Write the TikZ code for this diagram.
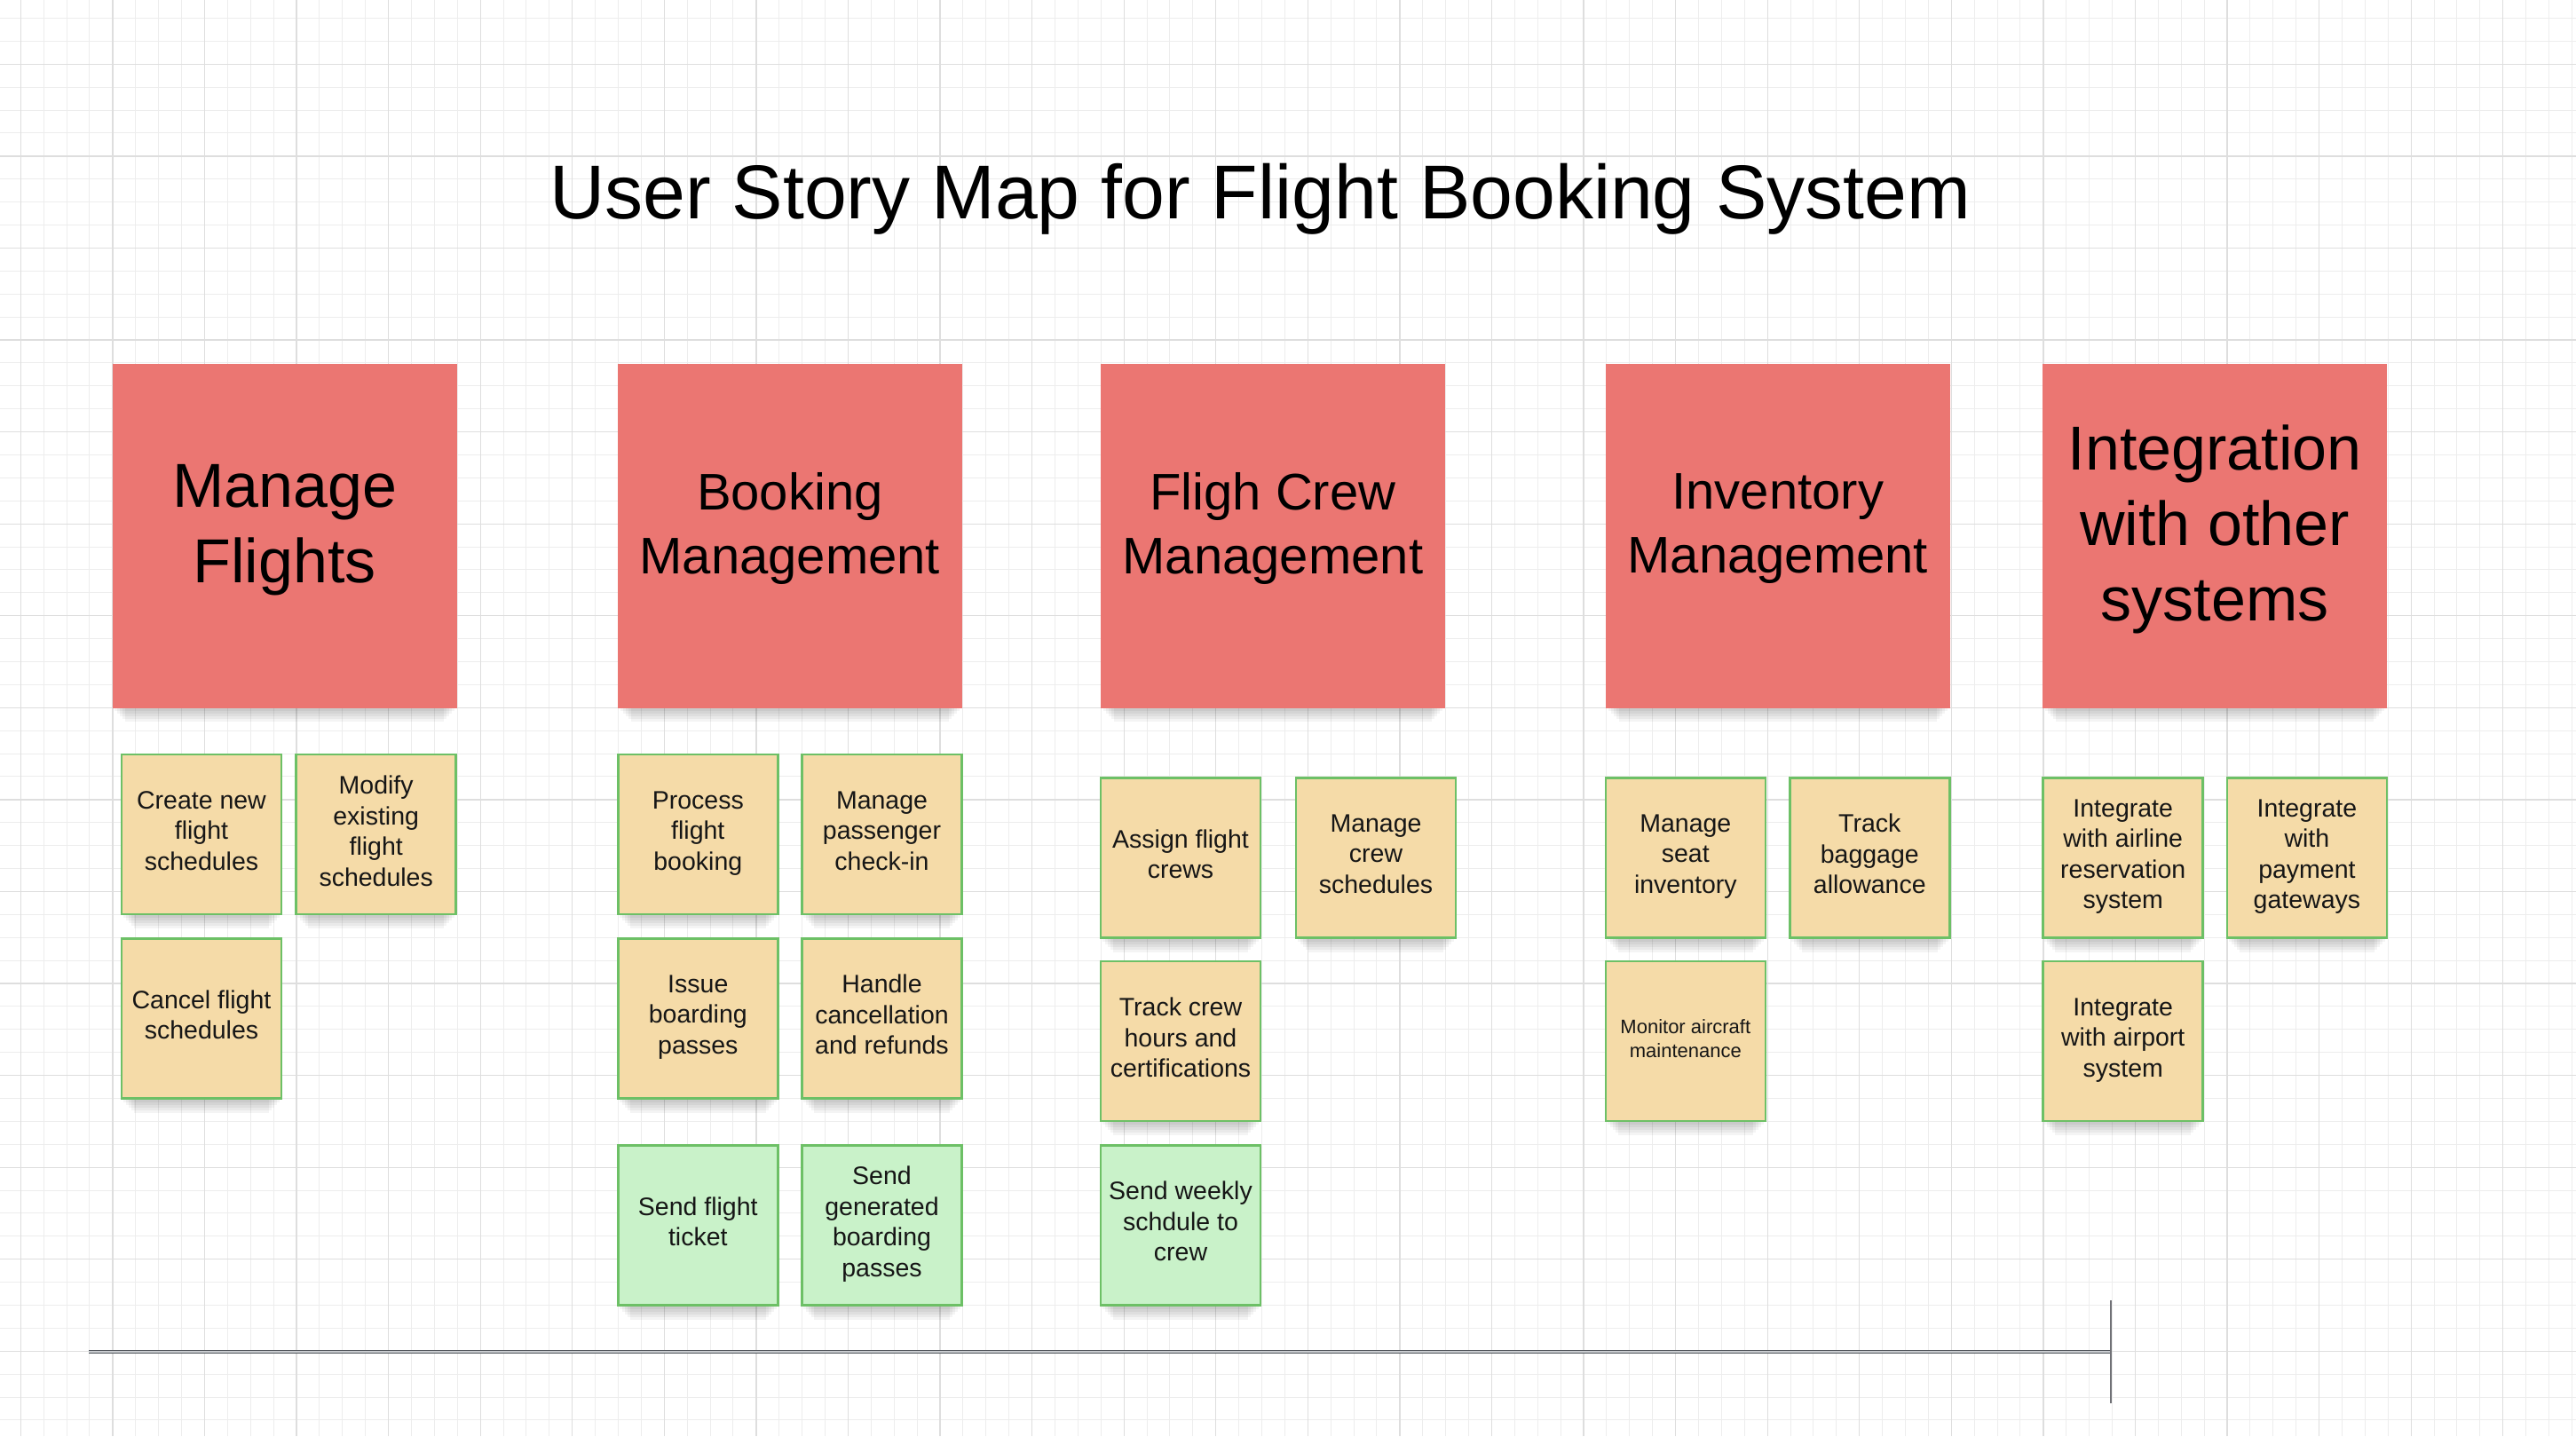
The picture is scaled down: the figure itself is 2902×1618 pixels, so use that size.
\documentclass[tikz,border=0pt]{standalone}
\usepackage{fontspec}
\setmainfont{Liberation Sans}
\definecolor{hdrred}{RGB}{235,118,114}
\definecolor{stickyyel}{RGB}{245,219,168}
\definecolor{stickygrn}{RGB}{201,242,201}
\definecolor{stickyedge}{RGB}{109,192,102}
\definecolor{gridminor}{RGB}{237,237,237}
\definecolor{gridmajor}{RGB}{222,222,222}
\definecolor{inkcol}{RGB}{22,22,22}
\definecolor{tlfill}{RGB}{200,203,207}
\definecolor{tledge}{RGB}{80,84,90}
\definecolor{tickcol}{RGB}{112,113,118}
\pgfdeclarelayer{bg}
\pgfdeclarelayer{shadowlayer}
\pgfsetlayers{bg,shadowlayer,main}
\newcommand\boxshadow[1]{%
  \begin{pgfonlayer}{shadowlayer}
    \foreach \ins/\dd in {3/3,6/6,9/9,12/12,15/15}{%
      \fill[black, opacity=0.045] ([xshift=\ins pt, yshift=-30pt]#1.north west) rectangle ([xshift=-\ins pt, yshift=-\dd pt]#1.south east);}
  \end{pgfonlayer}}
\tikzset{
  hdrbox/.style={fill=hdrred, minimum width=388pt, minimum height=388pt, inner sep=0pt,
    align=center, text=black},
  hdrbig/.style={hdrbox, font=\fontsize{70}{85}\selectfont,
    execute at begin node={\rule{0pt}{57pt}}, execute at end node={\rule[-28pt]{0pt}{28pt}}},
  hdrmid/.style={hdrbox, font=\fontsize{58}{72}\selectfont,
    execute at begin node={\rule{0pt}{44pt}}, execute at end node={\rule[-28pt]{0pt}{28pt}}},
  stickybase/.style={draw=stickyedge, line width=2.5pt, fill=stickyyel, minimum width=180pt,
    minimum height=180pt, inner sep=0pt, align=center, text=inkcol},
  sticky/.style={stickybase, font=\fontsize{28.5}{34.5}\selectfont,
    execute at begin node={\rule{0pt}{26pt}}, execute at end node={\rule[-8.5pt]{0pt}{8.5pt}}},
  stickyg/.style={sticky, fill=stickygrn},
  stickysmall/.style={stickybase, font=\fontsize{22}{26.7}\selectfont,
    execute at begin node={\rule{0pt}{20.5pt}}, execute at end node={\rule[-6.2pt]{0pt}{6.2pt}}},
  titletext/.style={font=\fontsize{86}{100}\selectfont, text=black, inner sep=0pt}
}
\begin{document}
\begin{tikzpicture}[x=1pt, y=-1pt]
\useasboundingbox (0,0) rectangle (2902,1618);
\begin{pgfonlayer}{bg}
\fill[white] (0,0) rectangle (2902,1618);
\foreach \i in {0,...,111} {\draw[gridminor, line width=1pt] (23.3+\i*25.8925,0) -- (23.3+\i*25.8925,1618);}
\foreach \j in {0,...,61} {\draw[gridminor, line width=1pt] (0,20.5+\j*25.8925) -- (2902,20.5+\j*25.8925);}
\foreach \i in {0,...,27} {\draw[gridmajor, line width=1.3pt] (23.3+\i*103.57,0) -- (23.3+\i*103.57,1618);}
\foreach \j in {0,...,14} {\draw[gridmajor, line width=1.3pt] (0,72.3+\j*103.57) -- (2902,72.3+\j*103.57);}
\end{pgfonlayer}

% title
\node[titletext, anchor=base] (title) at (1420,246) {User Story Map for Flight Booking System};

% activity headers
\node[hdrbig] (hMF) at (320.5,603.6) {Manage\\Flights};
\node[hdrmid] (hBM) at (889.8,603.6) {Booking\\Management};
\node[hdrmid] (hFC) at (1433.9,603.6) {Fligh Crew\\Management};
\node[hdrmid] (hIM) at (2002.8,603.6) {Inventory\\Management};
\node[hdrbig] (hIN) at (2495,603.6) {Integration\\with other\\systems};

% Manage Flights
\node[sticky] (mf1) at (227,940.2) {Create new\\flight\\schedules};
\node[sticky] (mf2) at (423.7,940.2) {Modify\\existing\\flight\\schedules};
\node[sticky] (mf3) at (227,1147.3) {Cancel flight\\schedules};

% Booking Management
\node[sticky] (bm1) at (786.3,940.2) {Process\\flight\\booking};
\node[sticky] (bm2) at (993.5,940.2) {Manage\\passenger\\check-in};
\node[sticky] (bm3) at (786.3,1147.3) {Issue\\boarding\\passes};
\node[sticky] (bm4) at (993.5,1147.3) {Handle\\cancellation\\and refunds};
\node[stickyg] (bm5) at (786.3,1380.3) {Send flight\\ticket};
\node[stickyg] (bm6) at (993.5,1380.3) {Send\\generated\\boarding\\passes};

% Flight Crew Management
\node[sticky] (fc1) at (1330,966.4) {Assign flight\\crews};
\node[sticky] (fc2) at (1550,966.4) {Manage\\crew\\schedules};
\node[sticky] (fc3) at (1330,1173.2) {Track crew\\hours and\\certifications};
\node[stickyg] (fc4) at (1330,1380.3) {Send weekly\\schdule to\\crew};

% Inventory Management
\node[sticky] (im1) at (1898.8,966.4) {Manage\\seat\\inventory};
\node[sticky] (im2) at (2106.3,966.4) {Track\\baggage\\allowance};
\node[stickysmall] (im3) at (1898.8,1173.2) {Monitor aircraft\\maintenance};

% Integration
\node[sticky] (in1) at (2391.7,966.4) {Integrate\\with airline\\reservation\\system};
\node[sticky] (in2) at (2598.9,966.4) {Integrate\\with\\payment\\gateways};
\node[sticky] (in3) at (2391.7,1173.2) {Integrate\\with airport\\system};

% soft shadows
\foreach \n in {hMF,hBM,hFC,hIM,hIN,mf1,mf2,mf3,bm1,bm2,bm3,bm4,bm5,bm6,fc1,fc2,fc3,fc4,im1,im2,im3,in1,in2,in3}{\boxshadow{\n}}

% timeline
\coordinate (tlstart) at (100.3,1522.7);
\coordinate (tlend) at (2378.3,1522.7);
\coordinate (tltop) at (2378.3,1465);
\coordinate (tlbot) at (2378.3,1580.7);
\draw[draw=tledge, line width=1.2pt, double=tlfill, double distance=1.6pt] (tlstart) -- (tlend);
\draw[tickcol, line width=2.3pt] (tltop) -- (tlbot);
\end{tikzpicture}
\end{document}
